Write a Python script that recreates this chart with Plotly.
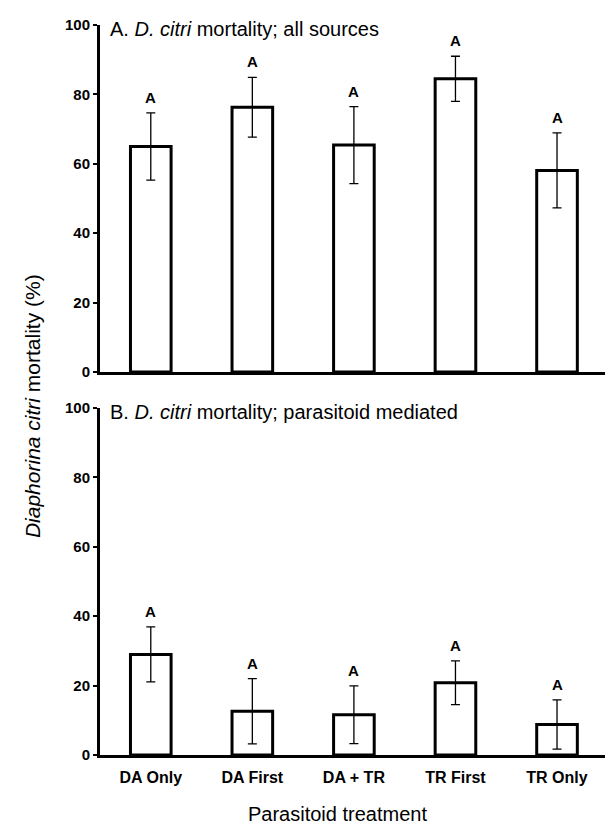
import plotly.graph_objects as go

categories = ["DA Only", "DA First", "DA + TR", "TR First", "TR Only"]
all_sources_mean = [65.0, 76.3, 65.4, 84.5, 58.1]
all_sources_se = [9.7, 8.6, 11.1, 6.5, 10.8]
parasitoid_mean = [29.0, 12.6, 11.6, 20.8, 8.8]
parasitoid_se = [7.9, 9.4, 8.3, 6.3, 7.1]
letters_a = ["A", "A", "A", "A", "A"]
letters_b = ["A", "A", "A", "A", "A"]
y_ticks = [0, 20, 40, 60, 80, 100]

FONT = "Liberation Sans, Arial, sans-serif"

fig = go.Figure()

def add_bars(means, ses, xa, ya):
    fig.add_trace(go.Bar(
        x=categories, y=means, xaxis=xa, yaxis=ya, width=0.4,
        marker=dict(color="white", line=dict(color="black", width=3)),
        error_y=dict(type="data", array=ses, visible=True, color="black",
                     thickness=1.3, width=4.5),
        showlegend=False, hoverinfo="skip"))

add_bars(all_sources_mean, all_sources_se, "x", "y")
add_bars(parasitoid_mean, parasitoid_se, "x2", "y2")

annotations = []
for cat, m, s, l in zip(categories, all_sources_mean, all_sources_se, letters_a):
    annotations.append(dict(x=cat, y=m + s, xref="x", yref="y", text="<b>%s</b>" % l,
                            showarrow=False, yanchor="bottom", yshift=5,
                            font=dict(family=FONT, size=15, color="black")))
for cat, m, s, l in zip(categories, parasitoid_mean, parasitoid_se, letters_b):
    annotations.append(dict(x=cat, y=m + s, xref="x2", yref="y2", text="<b>%s</b>" % l,
                            showarrow=False, yanchor="bottom", yshift=5,
                            font=dict(family=FONT, size=15, color="black")))

annotations.append(dict(x=0.015, y=1.0, xref="paper", yref="y domain",
                        text="A. <i>D. citri</i> mortality; all sources",
                        showarrow=False, xanchor="left", yanchor="middle", yshift=-4,
                        font=dict(family=FONT, size=20, color="black")))
annotations.append(dict(x=0.015, y=1.0, xref="paper", yref="y2 domain",
                        text="B. <i>D. citri</i> mortality; parasitoid mediated",
                        showarrow=False, xanchor="left", yanchor="middle", yshift=-4,
                        font=dict(family=FONT, size=20, color="black")))
annotations.append(dict(x=-0.1305, y=0.478, xref="paper", yref="paper",
                        text="<i>Diaphorina citri</i> mortality (%)", textangle=-90,
                        showarrow=False, xanchor="center", yanchor="middle",
                        font=dict(family=FONT, size=21, color="black")))
annotations.append(dict(x=0.28, y=0, xref="paper", yref="paper",
                        text="Parasitoid treatment", yshift=-59,
                        showarrow=False, xanchor="left", yanchor="middle",
                        font=dict(family=FONT, size=20, color="black")))

xcommon = dict(type="category", range=[-0.5, 4.63], showline=True, linecolor="black",
               linewidth=3, ticks="", showgrid=False, zeroline=False, fixedrange=True)
ycommon = dict(range=[0, 100], tickvals=y_ticks, showline=True, linecolor="black",
               linewidth=3, ticks="outside", ticklen=4, tickwidth=2, tickcolor="black",
               showgrid=False, zeroline=False,
               tickfont=dict(family=FONT, size=15, color="black", weight="bold"))

fig.update_layout(
    width=613, height=827,
    margin=dict(l=92, r=0, t=17, b=80),
    paper_bgcolor="white", plot_bgcolor="white",
    xaxis=dict(**xcommon, anchor="y", showticklabels=False),
    yaxis=dict(**ycommon, domain=[0.5247, 1.0], anchor="x"),
    xaxis2=dict(**xcommon, anchor="y2", matches="x", ticklabelstandoff=6,
                tickfont=dict(family=FONT, size=16, color="black", weight="bold")),
    yaxis2=dict(**ycommon, domain=[0.0, 0.4753], anchor="x2"),
    annotations=annotations,
    bargap=0.6,
)

fig.write_html("out.html")
